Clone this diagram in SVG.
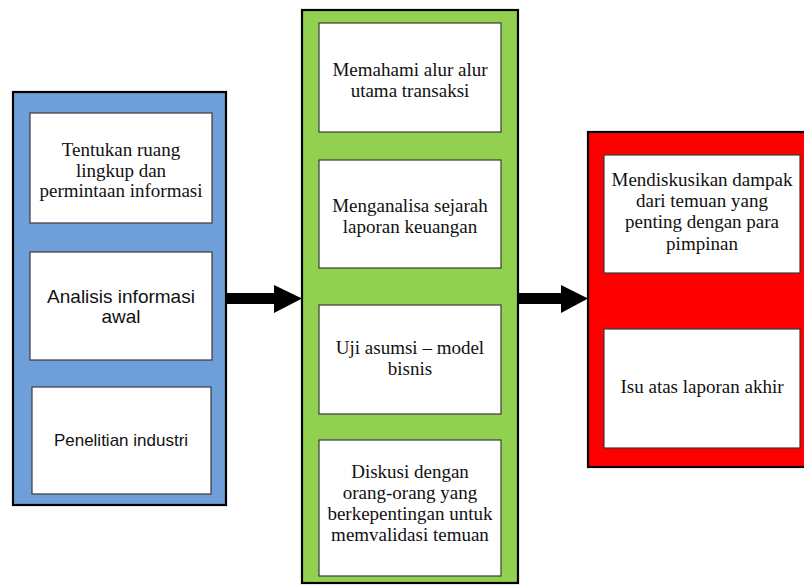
<svg xmlns="http://www.w3.org/2000/svg" width="804" height="585" viewBox="0 0 804 585">
  <defs>
    <style>
      .panel { stroke: #000; stroke-width: 2.2; }
      .blue { fill: #6F9FD8; }
      .green { fill: #92D050; }
      .red { fill: #FF0000; }
      .box { fill: #fff; stroke: #3a3a3a; stroke-width: 1.2; }
      .serif { font-family: "Liberation Serif", "Times New Roman", serif; font-size: 19px; fill: #111; text-anchor: middle; }
      .sans { font-family: "Liberation Sans", Arial, sans-serif; fill: #111; text-anchor: middle; }
      .conn { fill: #000; }
    </style>
  </defs>
  <rect width="804" height="585" fill="#fff"/>

  <!-- Phase 1: planning -->
  <g id="phase-planning">
    <rect class="panel blue" x="13" y="92" width="213" height="413"/>
    <g id="node-ruang-lingkup">
      <rect class="box" x="30" y="113" width="182" height="110"/>
      <text class="serif" x="121" y="156">Tentukan ruang</text>
      <text class="serif" x="121" y="177">lingkup dan</text>
      <text class="serif" x="121" y="197">permintaan informasi</text>
    </g>
    <g id="node-analisis-awal">
      <rect class="box" x="30" y="252" width="182" height="108"/>
      <text class="sans" x="121" y="303" font-size="19">Analisis informasi</text>
      <text class="sans" x="121" y="323" font-size="19">awal</text>
    </g>
    <g id="node-penelitian">
      <rect class="box" x="32" y="387" width="179" height="107"/>
      <text class="sans" x="121" y="446" font-size="17">Penelitian industri</text>
    </g>
  </g>

  <!-- Phase 2: analysis -->
  <g id="phase-analysis">
    <rect class="panel green" x="302" y="10" width="216" height="573"/>
    <g id="node-alur-transaksi">
      <rect class="box" x="319" y="23" width="182" height="109"/>
      <text class="serif" x="410" y="76">Memahami alur alur</text>
      <text class="serif" x="410" y="97">utama transaksi</text>
    </g>
    <g id="node-sejarah-laporan">
      <rect class="box" x="319" y="160" width="182" height="108"/>
      <text class="serif" x="410" y="212">Menganalisa sejarah</text>
      <text class="serif" x="410" y="233">laporan keuangan</text>
    </g>
    <g id="node-uji-asumsi">
      <rect class="box" x="319" y="305" width="182" height="109"/>
      <text class="serif" x="410" y="354">Uji asumsi – model</text>
      <text class="serif" x="410" y="375">bisnis</text>
    </g>
    <g id="node-diskusi">
      <rect class="box" x="319" y="440" width="182" height="136"/>
      <text class="serif" x="410" y="478">Diskusi dengan</text>
      <text class="serif" x="410" y="499">orang-orang yang</text>
      <text class="serif" x="410" y="520">berkepentingan untuk</text>
      <text class="serif" x="410" y="541">memvalidasi temuan</text>
    </g>
  </g>

  <!-- Phase 3: reporting -->
  <g id="phase-reporting">
    <rect class="panel red" x="588" y="132" width="220" height="335"/>
    <g id="node-diskusi-pimpinan">
      <rect class="box" x="604" y="155" width="196" height="118"/>
      <text class="serif" x="702" y="186">Mendiskusikan dampak</text>
      <text class="serif" x="702" y="207">dari temuan yang</text>
      <text class="serif" x="702" y="228">penting dengan para</text>
      <text class="serif" x="702" y="250">pimpinan</text>
    </g>
    <g id="node-laporan-akhir">
      <rect class="box" x="604" y="329" width="196" height="119"/>
      <text class="serif" x="702" y="393">Isu atas laporan akhir</text>
    </g>
  </g>

  <!-- Connectors between phases -->
  <g id="connectors">
    <polygon class="conn" points="226,293 274,293 274,285 302,298.5 274,313 274,304 226,304"/>
    <polygon class="conn" points="518,293 561,293 561,285 588,298.5 561,313 561,304 518,304"/>
  </g>
</svg>
